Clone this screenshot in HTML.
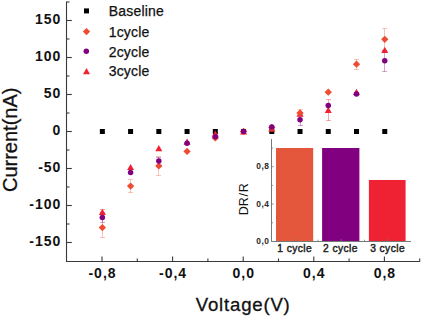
<!DOCTYPE html>
<html><head><meta charset="utf-8"><style>
html,body{margin:0;padding:0;background:#fff;}
body{width:423px;height:317px;overflow:hidden;}
svg{display:block;}
text{font-family:"Liberation Sans",sans-serif;fill:#111;}
.tl{font-size:14px;font-weight:bold;letter-spacing:1px;}
.title{font-size:20px;stroke:#111;stroke-width:0.3px;}
.leg{font-size:14px;letter-spacing:0.2px;stroke:#111;stroke-width:0.25px;}
.itl{font-size:8.4px;font-weight:bold;letter-spacing:0.6px;fill:#2a2a2a;}
.icl{font-size:10.2px;letter-spacing:0.45px;fill:#222;stroke:#222;stroke-width:0.45px;}
.ititle{font-size:12.5px;}
</style></head><body>
<svg width="423" height="317" viewBox="0 0 423 317">
<rect width="423" height="317" fill="#fff"/>
<line x1="66.5" y1="1.5" x2="66.5" y2="262" stroke="#3a3a3a" stroke-width="1.1"/>
<line x1="66" y1="261.5" x2="420" y2="261.5" stroke="#3a3a3a" stroke-width="1.1"/>
<line x1="66.5" y1="242.50" x2="71.80" y2="242.50" stroke="#3a3a3a" stroke-width="1.1"/>
<line x1="66.5" y1="224.00" x2="69.50" y2="224.00" stroke="#3a3a3a" stroke-width="1.1"/>
<line x1="66.5" y1="205.50" x2="71.80" y2="205.50" stroke="#3a3a3a" stroke-width="1.1"/>
<line x1="66.5" y1="187.00" x2="69.50" y2="187.00" stroke="#3a3a3a" stroke-width="1.1"/>
<line x1="66.5" y1="168.50" x2="71.80" y2="168.50" stroke="#3a3a3a" stroke-width="1.1"/>
<line x1="66.5" y1="150.00" x2="69.50" y2="150.00" stroke="#3a3a3a" stroke-width="1.1"/>
<line x1="66.5" y1="131.50" x2="71.80" y2="131.50" stroke="#3a3a3a" stroke-width="1.1"/>
<line x1="66.5" y1="113.00" x2="69.50" y2="113.00" stroke="#3a3a3a" stroke-width="1.1"/>
<line x1="66.5" y1="94.50" x2="71.80" y2="94.50" stroke="#3a3a3a" stroke-width="1.1"/>
<line x1="66.5" y1="76.00" x2="69.50" y2="76.00" stroke="#3a3a3a" stroke-width="1.1"/>
<line x1="66.5" y1="57.50" x2="71.80" y2="57.50" stroke="#3a3a3a" stroke-width="1.1"/>
<line x1="66.5" y1="39.00" x2="69.50" y2="39.00" stroke="#3a3a3a" stroke-width="1.1"/>
<line x1="66.5" y1="20.50" x2="71.80" y2="20.50" stroke="#3a3a3a" stroke-width="1.1"/>
<line x1="66.5" y1="2.00" x2="69.50" y2="2.00" stroke="#3a3a3a" stroke-width="1.1"/>
<line x1="102.00" y1="261.5" x2="102.00" y2="256.50" stroke="#3a3a3a" stroke-width="1.1"/>
<line x1="137.30" y1="261.5" x2="137.30" y2="258.50" stroke="#3a3a3a" stroke-width="1.1"/>
<line x1="172.60" y1="261.5" x2="172.60" y2="256.50" stroke="#3a3a3a" stroke-width="1.1"/>
<line x1="207.90" y1="261.5" x2="207.90" y2="258.50" stroke="#3a3a3a" stroke-width="1.1"/>
<line x1="243.20" y1="261.5" x2="243.20" y2="256.50" stroke="#3a3a3a" stroke-width="1.1"/>
<line x1="278.50" y1="261.5" x2="278.50" y2="258.50" stroke="#3a3a3a" stroke-width="1.1"/>
<line x1="313.80" y1="261.5" x2="313.80" y2="256.50" stroke="#3a3a3a" stroke-width="1.1"/>
<line x1="349.10" y1="261.5" x2="349.10" y2="258.50" stroke="#3a3a3a" stroke-width="1.1"/>
<line x1="384.40" y1="261.5" x2="384.40" y2="256.50" stroke="#3a3a3a" stroke-width="1.1"/>
<line x1="419.70" y1="261.5" x2="419.70" y2="258.50" stroke="#3a3a3a" stroke-width="1.1"/>
<text x="61.4" y="245.90" text-anchor="end" class="tl">-150</text>
<text x="61.4" y="208.90" text-anchor="end" class="tl">-100</text>
<text x="61.4" y="171.90" text-anchor="end" class="tl">-50</text>
<text x="61.4" y="134.90" text-anchor="end" class="tl">0</text>
<text x="61.4" y="97.90" text-anchor="end" class="tl">50</text>
<text x="61.4" y="60.90" text-anchor="end" class="tl">100</text>
<text x="61.4" y="23.90" text-anchor="end" class="tl">150</text>
<text x="102.50" y="277.7" text-anchor="middle" class="tl">-0,8</text>
<text x="173.10" y="277.7" text-anchor="middle" class="tl">-0,4</text>
<text x="243.70" y="277.7" text-anchor="middle" class="tl">0,0</text>
<text x="314.30" y="277.7" text-anchor="middle" class="tl">0,4</text>
<text x="384.90" y="277.7" text-anchor="middle" class="tl">0,8</text>
<text x="243.2" y="311.2" text-anchor="middle" class="title" style="font-size:18.6px;letter-spacing:0.8px">Voltage(V)</text>
<text transform="translate(17.0,139.8) rotate(-90)" x="0" y="0" text-anchor="middle" class="title">Current(nA)</text>
<rect x="99.85" y="129.00" width="5" height="5" fill="#000"/>
<rect x="128.09" y="129.00" width="5" height="5" fill="#000"/>
<rect x="156.33" y="129.00" width="5" height="5" fill="#000"/>
<rect x="184.57" y="129.00" width="5" height="5" fill="#000"/>
<rect x="212.81" y="129.00" width="5" height="5" fill="#000"/>
<rect x="241.05" y="129.00" width="5" height="5" fill="#000"/>
<rect x="269.29" y="129.00" width="5" height="5" fill="#000"/>
<rect x="297.53" y="129.00" width="5" height="5" fill="#000"/>
<rect x="325.77" y="129.00" width="5" height="5" fill="#000"/>
<rect x="354.01" y="129.00" width="5" height="5" fill="#000"/>
<rect x="382.25" y="129.00" width="5" height="5" fill="#000"/>
<path d="M102.50 209.50V214.50M100.00 209.50H105.00M100.00 214.50H105.00" stroke="rgba(238,34,51,0.4)" stroke-width="1" fill="none"/>
<path d="M102.50 217.50V237.50M100.00 217.50H105.00M100.00 237.50H105.00" stroke="rgba(238,75,50,0.33)" stroke-width="1" fill="none"/>
<path d="M102.50 212.50V222.50M100.00 212.50H105.00M100.00 222.50H105.00" stroke="rgba(128,0,128,0.35)" stroke-width="1" fill="none"/>
<path d="M130.50 179.50V192.50M128.00 179.50H133.00M128.00 192.50H133.00" stroke="rgba(238,75,50,0.33)" stroke-width="1" fill="none"/>
<path d="M158.50 156.50V175.50M156.00 156.50H161.00M156.00 175.50H161.00" stroke="rgba(238,75,50,0.33)" stroke-width="1" fill="none"/>
<path d="M158.50 157.50V165.50M156.00 157.50H161.00M156.00 165.50H161.00" stroke="rgba(128,0,128,0.35)" stroke-width="1" fill="none"/>
<path d="M300.50 109.50V116.50M298.00 109.50H303.00M298.00 116.50H303.00" stroke="rgba(238,75,50,0.33)" stroke-width="1" fill="none"/>
<path d="M300.50 114.50V125.50M298.00 114.50H303.00M298.00 125.50H303.00" stroke="rgba(128,0,128,0.35)" stroke-width="1" fill="none"/>
<path d="M328.50 99.50V120.50M326.00 99.50H331.00M326.00 120.50H331.00" stroke="rgba(238,34,51,0.4)" stroke-width="1" fill="none"/>
<path d="M356.50 59.50V69.50M354.00 59.50H359.00M354.00 69.50H359.00" stroke="rgba(238,75,50,0.33)" stroke-width="1" fill="none"/>
<path d="M384.50 28.50V50.50M382.00 28.50H387.00M382.00 50.50H387.00" stroke="rgba(238,75,50,0.33)" stroke-width="1" fill="none"/>
<path d="M384.50 50.50V71.50M382.00 50.50H387.00M382.00 71.50H387.00" stroke="rgba(128,0,128,0.35)" stroke-width="1" fill="none"/>
<path d="M102.35 208.70L105.85 214.90L98.85 214.90Z" fill="#EE2233"/>
<path d="M102.35 223.95L106.00 227.60L102.35 231.25L98.70 227.60Z" fill="#EE4B32"/>
<circle cx="102.35" cy="217.60" r="2.75" fill="#800080"/>
<path d="M130.59 163.90L134.09 170.10L127.09 170.10Z" fill="#EE2233"/>
<path d="M130.59 182.45L134.24 186.10L130.59 189.75L126.94 186.10Z" fill="#EE4B32"/>
<circle cx="130.59" cy="172.40" r="2.75" fill="#800080"/>
<path d="M158.83 145.10L162.33 151.30L155.33 151.30Z" fill="#EE2233"/>
<path d="M158.83 162.25L162.48 165.90L158.83 169.55L155.18 165.90Z" fill="#EE4B32"/>
<circle cx="158.83" cy="161.10" r="2.75" fill="#800080"/>
<path d="M187.07 138.50L190.57 144.70L183.57 144.70Z" fill="#EE2233"/>
<path d="M187.07 147.75L190.72 151.40L187.07 155.05L183.42 151.40Z" fill="#EE4B32"/>
<circle cx="187.07" cy="143.20" r="2.75" fill="#800080"/>
<path d="M215.31 130.50L218.81 136.70L211.81 136.70Z" fill="#EE2233"/>
<path d="M215.31 134.25L218.96 137.90L215.31 141.55L211.66 137.90Z" fill="#EE4B32"/>
<circle cx="215.31" cy="136.70" r="2.75" fill="#800080"/>
<path d="M243.55 128.40L247.05 134.60L240.05 134.60Z" fill="#EE2233"/>
<path d="M243.55 127.85L247.20 131.50L243.55 135.15L239.90 131.50Z" fill="#EE4B32"/>
<circle cx="243.55" cy="131.50" r="2.75" fill="#800080"/>
<path d="M271.79 125.50L275.29 131.70L268.29 131.70Z" fill="#EE2233"/>
<path d="M271.79 123.95L275.44 127.60L271.79 131.25L268.14 127.60Z" fill="#EE4B32"/>
<circle cx="271.79" cy="126.90" r="2.75" fill="#800080"/>
<path d="M300.03 110.50L303.53 116.70L296.53 116.70Z" fill="#EE2233"/>
<path d="M300.03 109.35L303.68 113.00L300.03 116.65L296.38 113.00Z" fill="#EE4B32"/>
<circle cx="300.03" cy="119.80" r="2.75" fill="#800080"/>
<path d="M328.27 106.75L331.77 112.95L324.77 112.95Z" fill="#EE2233"/>
<path d="M328.27 88.55L331.92 92.20L328.27 95.85L324.62 92.20Z" fill="#EE4B32"/>
<circle cx="328.27" cy="105.40" r="2.75" fill="#800080"/>
<path d="M356.51 88.70L360.01 94.90L353.01 94.90Z" fill="#EE2233"/>
<path d="M356.51 60.55L360.16 64.20L356.51 67.85L352.86 64.20Z" fill="#EE4B32"/>
<circle cx="356.51" cy="94.10" r="2.75" fill="#800080"/>
<path d="M384.75 46.70L388.25 52.90L381.25 52.90Z" fill="#EE2233"/>
<path d="M384.75 35.65L388.40 39.30L384.75 42.95L381.10 39.30Z" fill="#EE4B32"/>
<circle cx="384.75" cy="60.70" r="2.75" fill="#800080"/>
<rect x="84.00" y="8.40" width="5" height="5" fill="#000"/>
<path d="M86.50 27.95L90.15 31.60L86.50 35.25L82.85 31.60Z" fill="#EE4B32"/>
<circle cx="86.30" cy="51.30" r="2.75" fill="#800080"/>
<path d="M86.50 68.00L90.00 74.20L83.00 74.20Z" fill="#EE2233"/>
<text x="108.7" y="16.4" class="leg">Baseline</text>
<text x="108.7" y="36.5" class="leg">1cycle</text>
<text x="108.7" y="56.6" class="leg">2cycle</text>
<text x="108.7" y="76.2" class="leg">3cycle</text>
<rect x="271.5" y="138" width="141" height="103.5" fill="#fff"/>
<rect x="276.0" y="148.00" width="37.20" height="93.50" fill="#E5573D"/>
<rect x="322.1" y="148.00" width="37.30" height="93.50" fill="#800080"/>
<rect x="368.9" y="179.98" width="36.70" height="61.52" fill="#EE2233"/>
<line x1="271.5" y1="139" x2="271.5" y2="241.5" stroke="#777" stroke-width="1"/>
<line x1="271.5" y1="241.5" x2="411" y2="241.5" stroke="#777" stroke-width="1"/>
<line x1="271.5" y1="241.50" x2="273.7" y2="241.50" stroke="#777" stroke-width="0.8"/>
<line x1="271.5" y1="222.80" x2="273.0" y2="222.80" stroke="#777" stroke-width="0.8"/>
<line x1="271.5" y1="204.10" x2="273.7" y2="204.10" stroke="#777" stroke-width="0.8"/>
<line x1="271.5" y1="185.40" x2="273.0" y2="185.40" stroke="#777" stroke-width="0.8"/>
<line x1="271.5" y1="166.70" x2="273.7" y2="166.70" stroke="#777" stroke-width="0.8"/>
<line x1="271.5" y1="148.00" x2="273.0" y2="148.00" stroke="#777" stroke-width="0.8"/>
<line x1="294.6" y1="241.5" x2="294.6" y2="239.0" stroke="#777" stroke-width="0.8"/>
<line x1="341.2" y1="241.5" x2="341.2" y2="239.0" stroke="#777" stroke-width="0.8"/>
<line x1="387.8" y1="241.5" x2="387.8" y2="239.0" stroke="#777" stroke-width="0.8"/>
<line x1="317.9" y1="241.5" x2="317.9" y2="239.7" stroke="#777" stroke-width="0.8"/>
<line x1="364.5" y1="241.5" x2="364.5" y2="239.7" stroke="#777" stroke-width="0.8"/>
<text x="269.6" y="244.20" text-anchor="end" class="itl">0,0</text>
<text x="269.6" y="206.80" text-anchor="end" class="itl">0,4</text>
<text x="269.6" y="169.40" text-anchor="end" class="itl">0,8</text>
<text x="294.7" y="252.0" text-anchor="middle" class="icl">1 cycle</text>
<text x="340.5" y="252.0" text-anchor="middle" class="icl">2 cycle</text>
<text x="387.6" y="252.0" text-anchor="middle" class="icl">3 cycle</text>
<text transform="translate(248.3,199.2) rotate(-90)" text-anchor="middle" class="ititle">DR<tspan dx="0.7">/</tspan><tspan dx="0.7">R</tspan></text>
</svg>
</body></html>
